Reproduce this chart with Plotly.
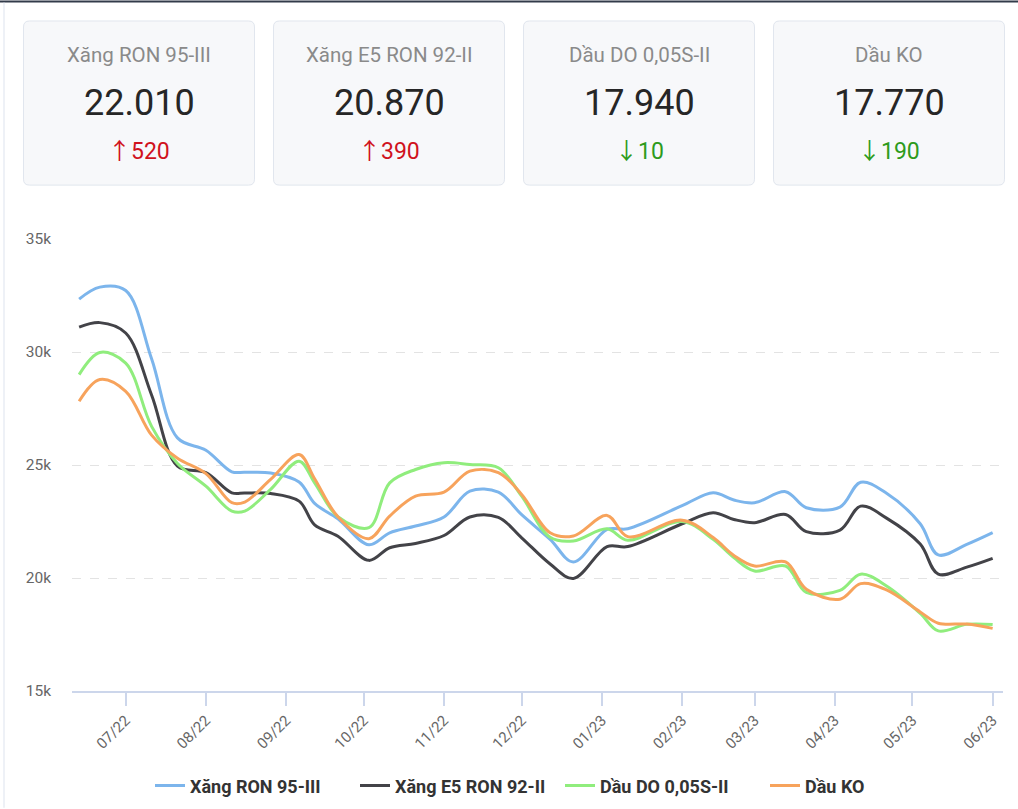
import plotly.graph_objects as go

# ---------------- data ----------------
dates = ["2022-06-13", "2022-06-21", "2022-07-01", "2022-07-11", "2022-07-21", "2022-08-01",
         "2022-08-11", "2022-08-16", "2022-08-26", "2022-09-06", "2022-09-12", "2022-09-21",
         "2022-10-03", "2022-10-11", "2022-10-21", "2022-11-01", "2022-11-11", "2022-11-22",
         "2022-12-01", "2022-12-12", "2022-12-21", "2023-01-03", "2023-01-11", "2023-02-01",
         "2023-02-13", "2023-02-21", "2023-03-01", "2023-03-13", "2023-03-21", "2023-04-03",
         "2023-04-11", "2023-04-21", "2023-05-04", "2023-05-11", "2023-05-22", "2023-06-01"]

ron95 = [32340, 32870, 32720, 29700, 26200, 25650, 24700, 24680, 24650, 24250, 23300, 22620,
         21470, 22000, 22300, 22700, 23840, 23800, 22800, 21710, 20710, 22150, 22180, 23200,
         23770, 23450, 23330, 23820, 23110, 23140, 24240, 23750, 22400, 21020, 21490, 22010]

e5ron92 = [31100, 31300, 30840, 28100, 24950, 24660, 23770, 23760, 23740, 23400, 22350, 21850,
           20780, 21340, 21530, 21880, 22700, 22680, 21780, 20620, 19980, 21390, 21390, 22400,
           22890, 22590, 22450, 22810, 22050, 22120, 23180, 22650, 21500, 20170, 20480, 20870]

do005 = [29000, 29980, 29510, 26710, 25070, 24060, 22960, 22960, 23920, 25170, 24210, 22710,
         22230, 24210, 24800, 25100, 25020, 24880, 23620, 21800, 21640, 22180, 21670, 22500,
         21710, 20900, 20310, 20530, 19360, 19450, 20170, 19650, 18440, 17660, 17950, 17940]

ko = [27820, 28780, 28260, 26320, 25300, 24620, 23330, 23360, 24360, 25460, 24390, 22710,
      21740, 22740, 23620, 23800, 24730, 24660, 23700, 22000, 21860, 22770, 21830, 22560,
      21790, 21000, 20530, 20710, 19500, 19060, 19750, 19470, 18500, 18000, 17960, 17770]

series_names = ["Xăng RON 95-III", "Xăng E5 RON 92-II", "Dầu DO 0,05S-II", "Dầu KO"]
series_values = [ron95, e5ron92, do005, ko]
series_colors = ["#7cb5ec", "#434348", "#90ed7d", "#f7a35c"]

y_tickvals = [15000, 20000, 25000, 30000, 35000]
y_ticktext = ["15k", "20k", "25k", "30k", "35k"]

# ---------------- layout geometry (pixels) ----------------
W_FIG, H_FIG = 1018, 816
L, R, T, B = 72, 1003, 239, 692
PW, PH = R - L, B - T


def px(x):
    return (x - L) / PW


def py(y):
    return (B - y) / PH


def rrect(x0, y0, x1, y1, r):
    pts = [
        ("M", [(x0 + r, y0)]), ("L", [(x1 - r, y0)]), ("Q", [(x1, y0), (x1, y0 + r)]),
        ("L", [(x1, y1 - r)]), ("Q", [(x1, y1), (x1 - r, y1)]), ("L", [(x0 + r, y1)]),
        ("Q", [(x0, y1), (x0, y1 - r)]), ("L", [(x0, y0 + r)]), ("Q", [(x0, y0), (x0 + r, y0)]),
    ]
    s = ""
    for cmd, ps in pts:
        s += cmd + " ".join(f"{px(a):.5f},{py(b):.5f}" for a, b in ps) + " "
    return s + "Z"


fig = go.Figure()
for name, vals, col in zip(series_names, series_values, series_colors):
    fig.add_trace(go.Scatter(
        x=dates, y=vals, name=name, mode="lines",
        line=dict(color=col, width=3, shape="spline", smoothing=1.0),
    ))

shapes = []
annotations = []

# top dark bar and left border line
shapes.append(dict(type="rect", xref="paper", yref="paper", x0=px(0), x1=px(W_FIG),
                   y0=py(2), y1=py(0), fillcolor="#323b4a", line=dict(width=0), layer="above"))
shapes.append(dict(type="line", xref="paper", yref="paper", x0=px(4), x1=px(4),
                   y0=py(2), y1=py(809), line=dict(color="#dde3ee", width=1)))

# KPI cards
card_lefts = [23.5, 273.5, 523.5, 773.5]
card_w = 231
for i, (name, vals) in enumerate(zip(series_names, series_values)):
    x0 = card_lefts[i]
    x1 = x0 + card_w
    cx = (x0 + x1) / 2
    shapes.append(dict(type="path", xref="paper", yref="paper",
                       path=rrect(x0, 20.5, x1, 185, 6),
                       fillcolor="#f7f8fa", line=dict(color="#e1e6ee", width=1), layer="below"))
    last, prev = vals[-1], vals[-2]
    diff = last - prev
    val_txt = f"{last:,}".replace(",", ".")
    arrow = "↑" if diff >= 0 else "↓"
    chg_col = "#d0121d" if diff >= 0 else "#2e9b1c"
    chg_txt = (f"<span style='font-family:\"Noto Sans CJK SC\"'>{arrow}</span>"
               + f"{abs(diff):,}".replace(",", "."))
    annotations.append(dict(xref="paper", yref="paper", x=px(cx), y=py(55), text=name,
                            showarrow=False, xanchor="center", yanchor="middle",
                            font=dict(family="Roboto", size=20.5, color="#8a8a8a")))
    annotations.append(dict(xref="paper", yref="paper", x=px(cx), y=py(103), text=val_txt,
                            showarrow=False, xanchor="center", yanchor="middle",
                            font=dict(family="Roboto", size=36, color="#262626")))
    annotations.append(dict(xref="paper", yref="paper", x=px(cx), y=py(149), text=chg_txt,
                            showarrow=False, xanchor="center", yanchor="middle",
                            font=dict(family="Roboto", size=23, color=chg_col)))

fig.update_layout(
    width=W_FIG, height=H_FIG,
    margin=dict(l=L, r=W_FIG - R, t=T, b=809 - B, pad=0),
    paper_bgcolor="white", plot_bgcolor="white",
    font=dict(family="Roboto", color="#666666"),
    shapes=shapes, annotations=annotations,
    showlegend=True,
    legend=dict(orientation="h", x=px(150), xanchor="left", y=py(787), yanchor="middle",
                entrywidth=160, entrywidthmode="pixels",
                font=dict(family="Roboto", size=18, color="#333333", weight="bold"),
                bgcolor="rgba(0,0,0,0)"),
    hovermode="x unified",
)

fig.update_xaxes(
    type="date", range=["2022-06-10 06:00", "2023-06-05"],
    tick0="2022-07-01", dtick="M1", tickformat="%m/%y", tickangle=-45,
    ticks="outside", ticklen=13, tickwidth=1.5, tickcolor="#ccd6eb",
    showline=True, linecolor="#ccd6eb", linewidth=1.5,
    showgrid=False, zeroline=False,
    tickfont=dict(family="Roboto", size=15, color="#666666"),
)
fig.update_yaxes(
    range=[15000, 35000], tickvals=y_tickvals, ticktext=y_ticktext,
    showgrid=True, gridcolor="#e3e3e3", griddash="dash", gridwidth=1,
    zeroline=False, showline=False, ticks="", ticklabelstandoff=20,
    tickfont=dict(family="Roboto", size=15.5, color="#666666"),
)

post_js = (
    "document.documentElement.style.margin='0';"
    "document.documentElement.style.overflow='hidden';"
    "document.body.style.margin='0';document.body.style.overflow='hidden';"
    "var gd=document.getElementById('{plot_id}');"
    "gd.style.position='fixed';gd.style.top='0px';gd.style.left='0px';"
)

fig.write_html("out.html", config={"displayModeBar": False}, post_script=post_js)
